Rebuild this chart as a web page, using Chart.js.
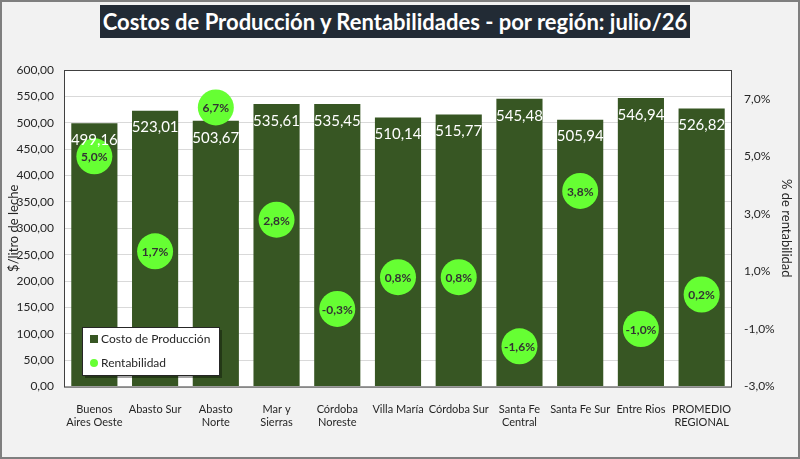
<!DOCTYPE html>
<html>
<head>
<meta charset="utf-8">
<script src="https://cdn.jsdelivr.net/npm/chart.js@4.4.0/dist/chart.umd.min.js"></script>
<style>
  html, body { margin:0; padding:0; background:#f2f2f2; }
  #wrap { position:relative; width:800px; height:459px; }
  #title { position:absolute; left:100px; top:5px; width:590px; height:33px; background:#222b35;
    color:#fff; font-family:Lato, "Open Sans", sans-serif; font-weight:bold; font-size:22px;
    line-height:33px; text-align:center; white-space:nowrap; }
  canvas { position:absolute; left:0; top:0; }
</style>
</head>
<body>
<div id="wrap">
<canvas id="c" width="800" height="459"></canvas>
<div id="title">Costos de Producción y Rentabilidades - por región: julio/26</div>
</div>
<script>
const categories = [["Buenos","Aires Oeste"],"Abasto Sur",["Abasto","Norte"],["Mar y","Sierras"],["Córdoba","Noreste"],"Villa María","Córdoba Sur",["Santa Fe","Central"],"Santa Fe Sur","Entre Rios",["PROMEDIO","REGIONAL"]];
const costos = [499.16, 523.01, 503.67, 535.61, 535.45, 510.14, 515.77, 545.48, 505.94, 546.94, 526.82];
const rentabilidad = [5.0, 1.7, 6.7, 2.8, -0.3, 0.8, 0.8, -1.6, 3.8, -1.0, 0.2];
const leftTicks = [0,50,100,150,200,250,300,350,400,450,500,550,600];
const rightTicks = [-3,-1,1,3,5,7];

const FONT = "Lato, 'Open Sans', sans-serif";
const BAR_COLOR = "#375623";
const PT_COLOR = "#66ff33";
const fmt = (v, d) => v.toFixed(d).replace('.', ',');

const decor = {
  id: 'decor',
  beforeDraw(chart) {
    const {ctx, chartArea: a} = chart;
    ctx.save();
    ctx.fillStyle = '#f2f2f2';
    ctx.fillRect(0, 0, chart.width, chart.height);
    ctx.fillStyle = '#ffffff';
    ctx.fillRect(a.left, a.top, a.right - a.left, a.bottom - a.top);
    ctx.restore();
  },
  afterDatasetsDraw(chart) {
    const {ctx, chartArea: a} = chart;
    const barIdx = chart.data.datasets.findIndex(d => d.type === 'bar');
    const ptIdx = chart.data.datasets.findIndex(d => d.type === 'line');
    ctx.save();
    // bar labels (drawn above all series)
    const barMeta = chart.getDatasetMeta(barIdx);
    ctx.font = "15px " + FONT;
    ctx.fillStyle = '#ffffff';
    ctx.textAlign = 'center';
    ctx.textBaseline = 'middle';
    barMeta.data.forEach((el, i) => {
      ctx.fillText(fmt(costos[i], 2), el.x, el.y + 17);
    });
    // point labels
    const ptMeta = chart.getDatasetMeta(ptIdx);
    ctx.font = "bold 12px " + FONT;
    ctx.fillStyle = '#333333';
    ptMeta.data.forEach((el, i) => {
      ctx.fillText(fmt(rentabilidad[i], 1) + '%', el.x, el.y + 1);
    });
    // plot border
    ctx.strokeStyle = '#404040';
    ctx.lineWidth = 1;
    ctx.strokeRect(a.left + 0.5, a.top + 0.5, a.right - a.left - 1, a.bottom - a.top);
    // legend box
    const lx = 82, ly = 327, lw = 137, lh = 48;
    ctx.fillStyle = 'rgba(0,0,0,0.35)';
    ctx.fillRect(lx + 3, ly + 3, lw, lh);
    ctx.fillStyle = '#ffffff';
    ctx.fillRect(lx, ly, lw, lh);
    ctx.strokeStyle = '#262626';
    ctx.strokeRect(lx + 0.5, ly + 0.5, lw, lh);
    ctx.fillStyle = BAR_COLOR;
    ctx.fillRect(90, 335, 8, 8);
    ctx.fillStyle = PT_COLOR;
    ctx.beginPath(); ctx.arc(94, 363, 4, 0, Math.PI * 2); ctx.fill();
    ctx.fillStyle = '#262626';
    ctx.font = "12px " + FONT;
    ctx.textAlign = 'left';
    ctx.fillText(chart.data.datasets[barIdx].label, 101, 339);
    ctx.fillText(chart.data.datasets[ptIdx].label, 101, 363);
    // outer frame
    ctx.strokeStyle = '#7f7f7f';
    ctx.lineWidth = 2;
    ctx.strokeRect(1, 1, chart.width - 2, chart.height - 2);
    ctx.restore();
  }
};

new Chart(document.getElementById('c'), {
  data: {
    labels: categories,
    datasets: [
      { type: 'bar', label: 'Costo de Producción', data: costos, yAxisID: 'y', backgroundColor: BAR_COLOR,
        barPercentage: 0.76, categoryPercentage: 1.0, order: 1 },
      { type: 'line', label: 'Rentabilidad', data: rentabilidad, yAxisID: 'y2', showLine: false,
        pointRadius: 18, pointHoverRadius: 18, pointBackgroundColor: PT_COLOR, pointBorderColor: PT_COLOR,
        pointBorderWidth: 0, order: 0 }
    ]
  },
  options: {
    responsive: false,
    animation: false,
    events: [],
    layout: { padding: { top: 70, left: 4, right: 4, bottom: 22 } },
    plugins: { legend: { display: false }, tooltip: { enabled: false }, title: { display: false } },
    scales: {
      x: {
        grid: { display: false },
        border: { display: false },
        ticks: { color: '#262626', font: { family: FONT, size: 11 }, maxRotation: 0, autoSkip: false, padding: 8 }
      },
      y: {
        position: 'left', min: 0, max: 600,
        afterBuildTicks: s => { s.ticks = leftTicks.map(v => ({ value: v })); },
        afterFit: s => { s.width = 60; },
        grid: { color: '#d9d9d9', drawTicks: false },
        border: { display: false },
        ticks: { color: '#262626', font: { family: FONT, size: 12 }, padding: 10,
          callback: v => fmt(v, 2) },
        title: { display: true, text: '$/litro de leche', color: '#262626',
          font: { family: FONT, size: 13 }, padding: { top: 2, bottom: 0 } }
      },
      y2: {
        position: 'right', min: -3, max: 8,
        afterBuildTicks: s => { s.ticks = rightTicks.map(v => ({ value: v })); },
        afterFit: s => { s.width = 64; },
        grid: { display: false, drawTicks: false },
        border: { display: false },
        ticks: { color: '#262626', font: { family: FONT, size: 12 }, padding: 12,
          callback: v => fmt(v, 1) + '%' },
        title: { display: true, text: '% de rentabilidad', color: '#262626',
          font: { family: FONT, size: 13 }, padding: { top: 2, bottom: 0 } }
      }
    }
  },
  plugins: [decor]
});
</script>
</body>
</html>
